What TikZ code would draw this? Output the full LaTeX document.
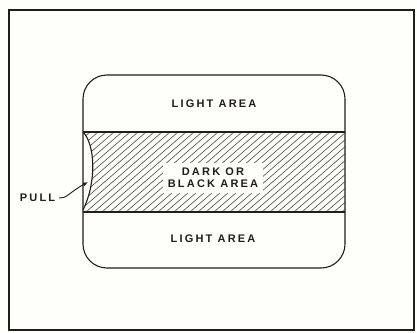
\documentclass[tikz,border=0pt]{standalone}
\usepackage{fontspec}
\setsansfont{Liberation Sans}
\usetikzlibrary{arrows.meta}
\definecolor{ink}{HTML}{221D18}
\definecolor{paper}{HTML}{FEFEFA}

\begin{document}
\begin{tikzpicture}[x=1pt,y=-1pt,line width=1.1pt,draw=ink,
  lbl/.style={text=ink,font=\sffamily\bfseries\fontsize{11}{13}\selectfont\addfontfeature{LetterSpace=20}}]
\fill[paper] (0,0) rectangle (417,332);
\useasboundingbox (0,0) rectangle (417,332);
\coordinate (F1) at (9,10);
\coordinate (F2) at (414,330);
\coordinate (S1) at (83,75);
\coordinate (S2) at (345,268);
\coordinate (a) at (83,132);
\coordinate (b) at (345,132);
\coordinate (c) at (345,212);
\coordinate (d) at (83,212);
\coordinate (p) at (83,210);
\coordinate (t) at (88,182);
\draw[line width=2.6pt] (F1) rectangle (F2);
\draw[rounded corners=24pt] (S1) rectangle (S2);
% hatched band
\begin{scope}
\clip (a) .. controls (95,144) and (97,182) .. (p) -- (d) -- (c) -- (b) -- cycle;
\foreach \i in {-90,-82,...,350}
  \draw[line width=.6pt,ink!80] (\i,212) -- ++(92,-80);
\end{scope}
\draw (a)--(b) (d)--(c);
\draw (a) .. controls (95,144) and (97,182) .. (p);
\node[lbl] (top) at (214,104) {LIGHT AREA};
\node[lbl] (bot) at (213,239) {LIGHT AREA};
\node[lbl,fill=paper,align=center,inner sep=5pt] (dark) at (213,178) {DARK OR\\[-1pt]BLACK AREA};
\node[lbl,anchor=west] (pull) at (16,198) {PULL};
\draw[line width=.9pt,-{Latex[length=5pt,width=4pt]}] (pull.east) .. controls (66,199) and (70,192) .. (t);
\end{tikzpicture}
\end{document}
